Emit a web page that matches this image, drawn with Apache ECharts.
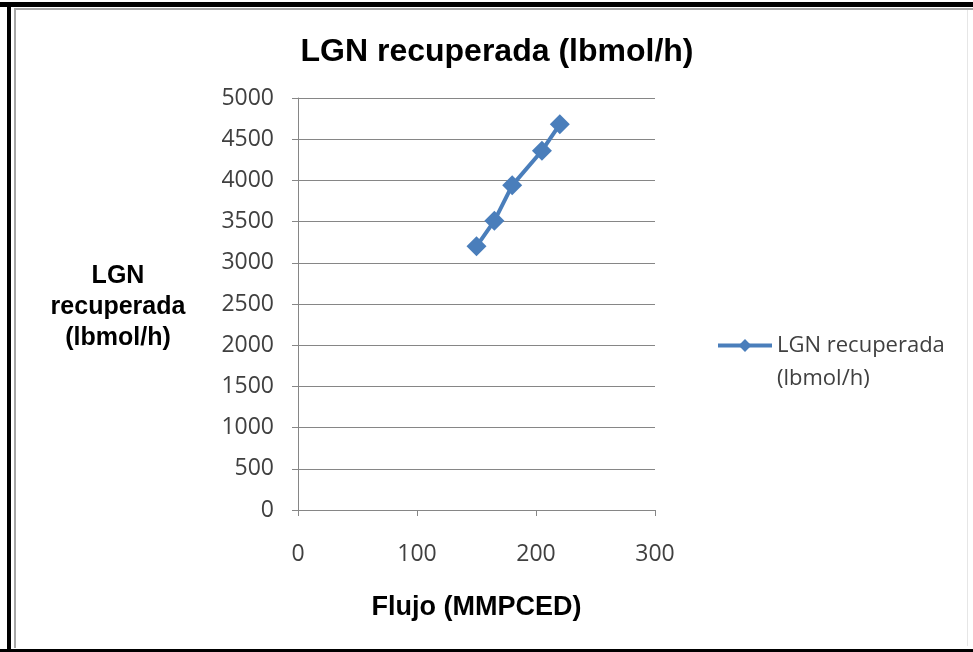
<!DOCTYPE html>
<html>
<head>
<meta charset="utf-8">
<script src="https://cdn.jsdelivr.net/npm/echarts@6/dist/echarts.min.js"></script>
<style>
html,body{margin:0;padding:0;background:#fff;}
#c{width:973px;height:652px;}
</style>
</head>
<body>
<div id="c"></div>
<script>
const seriesName = 'LGN recuperada (lbmol/h)';
const flujo = [150, 165, 180, 205, 220];
const lgn = [3200, 3510, 3940, 4360, 4680];
const xTicks = [0, 100, 200, 300];
const yTicks = [0, 500, 1000, 1500, 2000, 2500, 3000, 3500, 4000, 4500, 5000];

const chart = echarts.init(document.getElementById('c'));
const blue = '#4A7EBB';
chart.setOption({
  backgroundColor: '#fff',
  animation: false,
  title: {
    text: seriesName,
    left: 492, top: 31, textAlign: 'center',
    textStyle: {fontFamily: 'Liberation Sans', fontWeight: 'bold', fontSize: 32, color: '#000'}
  },
  grid: {left: 298, right: 318, top: 98, bottom: 142, containLabel: false},
  xAxis: {
    type: 'value', min: xTicks[0], max: xTicks[xTicks.length - 1], interval: 100,
    axisLine: {show: true, lineStyle: {color: '#868686', width: 1}},
    axisTick: {show: true, length: 6, lineStyle: {color: '#868686'}},
    axisLabel: {margin: 33, fontFamily: 'Open Sans', fontSize: 23, color: '#404040',
      formatter: v => String(v)},
    splitLine: {show: false},
    name: 'Flujo (MMPCED)', nameLocation: 'middle', nameGap: 84,
    nameTextStyle: {fontFamily: 'Liberation Sans', fontWeight: 'bold', fontSize: 27, color: '#000'}
  },
  yAxis: {
    type: 'value', min: yTicks[0], max: yTicks[yTicks.length - 1], interval: 500,
    axisLine: {show: true, lineStyle: {color: '#868686', width: 1}},
    axisTick: {show: true, length: 6, lineStyle: {color: '#868686'}},
    axisLabel: {margin: 24, fontFamily: 'Open Sans', fontSize: 23, color: '#404040',
      formatter: v => String(v)},
    splitLine: {show: true, lineStyle: {color: '#868686', width: 1}}
  },
  legend: {
    left: 716, top: 296, padding: 0,
    itemWidth: 54, itemHeight: 16, itemGap: 0,
    lineStyle: {width: 4},
    formatter: function () { return ' \nLGN recuperada\n(lbmol/h)'; },
    textStyle: {fontFamily: 'Open Sans', fontSize: 22, color: '#404040', lineHeight: 33},
    data: [seriesName]
  },
  series: [{
    name: seriesName,
    type: 'line',
    data: flujo.map((x, i) => [x, lgn[i]]),
    symbol: 'diamond', symbolSize: 20,
    lineStyle: {color: blue, width: 4},
    itemStyle: {color: blue}
  }],
  graphic: [
    {type: 'rect', shape: {x: 0, y: 2, width: 973, height: 5}, style: {fill: '#000'}},
    {type: 'rect', shape: {x: 7, y: 2, width: 4, height: 650}, style: {fill: '#000'}},
    {type: 'rect', shape: {x: 0, y: 649, width: 973, height: 3}, style: {fill: '#000'}},
    {type: 'rect', shape: {x: 14, y: 8, width: 959, height: 2}, style: {fill: '#a6a6a6'}},
    {type: 'rect', shape: {x: 14, y: 8, width: 2, height: 640}, style: {fill: '#a6a6a6'}},
    {type: 'rect', shape: {x: 967, y: 10, width: 1, height: 636}, style: {fill: '#e6e6e6'}},
    {type: 'text', x: 118, y: 261, style: {
      text: 'LGN\nrecuperada\n(lbmol/h)', textAlign: 'center',
      font: 'bold 25px "Liberation Sans"', fill: '#000', lineHeight: 31
    }}
  ]
});
</script>
</body>
</html>
